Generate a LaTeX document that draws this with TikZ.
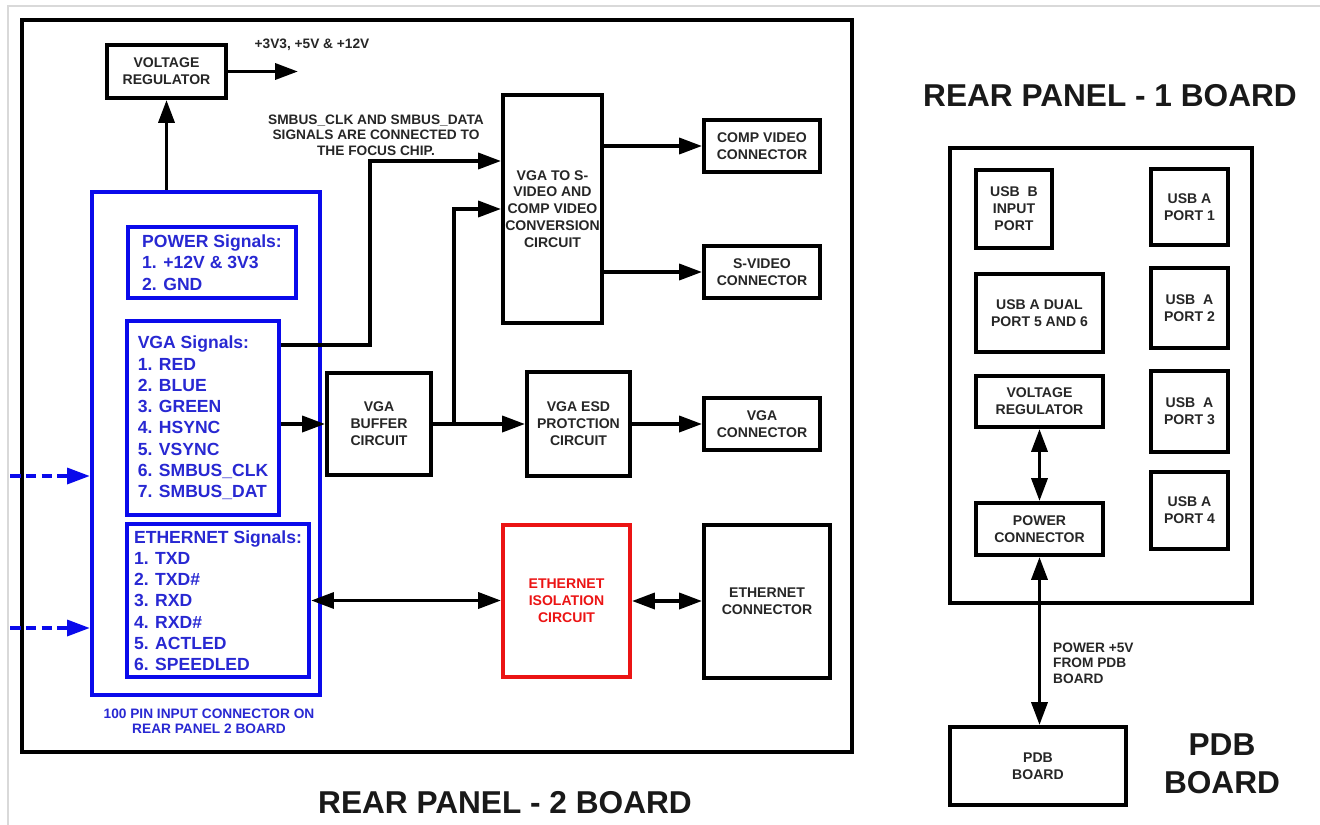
\documentclass[tikz,border=0pt]{standalone}
\usepackage{fontspec}
\setmainfont{Liberation Sans}
\usetikzlibrary{arrows.meta}
\definecolor{sigblue}{RGB}{10,10,235}
\definecolor{txtblue}{RGB}{40,40,210}
\definecolor{isored}{RGB}{235,20,20}
\newcommand{\boxfont}{\fontsize{8}{9.6}\selectfont\bfseries}
\newcommand{\notefont}{\fontsize{7.8}{8.8}\selectfont\bfseries}
\newcommand{\sigfont}{\fontsize{10}{12.1}\selectfont\bfseries}
\newcommand{\titlefont}{\fontsize{18}{21.5}\selectfont\bfseries}

\begin{document}
\begin{tikzpicture}[x=0.02cm, y=-0.02cm,
    blk/.style={draw, line width=2.2pt, align=center, font=\boxfont, text=black!85, inner sep=0pt},
    sig/.style={draw=sigblue, line width=2.4pt, align=left, font=\sigfont, text=txtblue, inner sep=0pt},
    conn/.style={line width=2.2pt, -{Triangle[length=13pt, width=9pt]}},
    dconn/.style={line width=2.2pt, {Triangle[length=13pt, width=9pt]}-{Triangle[length=13pt, width=9pt]}},
    din/.style={draw=sigblue, line width=2.2pt, dash pattern=on 6pt off 3pt, -{Triangle[length=13pt, width=9pt]}}]
      \useasboundingbox (0,0) rectangle (1320,825);
      % Screenshot edge
      \draw[gray!30, line width=0.6pt] (8,825) -- (8,6) -- (1320,6);

      % Rear panel 2 board frame
      \node[blk, minimum width=16.6cm, minimum height=14.64cm] (rp2) at (437,386) {};
      \node[font=\titlefont, text=black!90] (rp2title) at (505,803) {REAR PANEL - 2 BOARD};

      % Voltage regulator and its output
      \node[blk, minimum width=2.38cm, minimum height=1.06cm] (vreg) at (166.5,71.5) {VOLTAGE\\REGULATOR};
      \coordinate (vout) at (298,71.5);
      \node[font=\notefont, text=black!85] (vlabel) at (312,45) {+3V3, +5V \& +12V};

      % 100 pin input connector with its signal groups
      \node[sig, minimum width=4.56cm, minimum height=10.06cm] (pins) at (206,443.5) {};
      \node[sig, minimum width=3.36cm, minimum height=1.42cm] (pwrsig) at (212,262.5)
        {POWER Signals:\\1. +12V \& 3V3\\2. GND};
      \node[sig, minimum width=3.04cm, minimum height=3.88cm] (vgasig) at (203,418)
        {VGA Signals:\\1. RED\\2. BLUE\\3. GREEN\\4. HSYNC\\5. VSYNC\\6. SMBUS\_CLK\\7. SMBUS\_DAT};
      \node[sig, minimum width=3.64cm, minimum height=3.06cm] (ethsig) at (218,600.5)
        {ETHERNET Signals:\\1. TXD\\2. TXD\#\\3. RXD\\4. RXD\#\\5. ACTLED\\6. SPEEDLED};
      \node[font=\notefont, text=txtblue, align=center] (pinnote) at (209,721.5)
        {100 PIN INPUT CONNECTOR ON\\REAR PANEL 2 BOARD};
      \coordinate (in1) at (10,476);
      \coordinate (in2) at (10,628);

      % Video path
      \node[blk, minimum width=2.08cm, minimum height=2.04cm] (buf) at (379,424) {VGA\\BUFFER\\CIRCUIT};
      \node[blk, minimum width=1.98cm, minimum height=4.56cm] (conv) at (552.5,209)
        {VGA TO S-\\VIDEO AND\\COMP VIDEO\\CONVERSION\\CIRCUIT};
      \node[blk, minimum width=2.06cm, minimum height=2.08cm] (esd) at (578.5,424) {VGA ESD\\PROTCTION\\CIRCUIT};
      \node[blk, minimum width=2.32cm, minimum height=1.04cm] (comp) at (762,146) {COMP VIDEO\\CONNECTOR};
      \node[blk, minimum width=2.32cm, minimum height=1.04cm] (svid) at (762,272) {S-VIDEO\\CONNECTOR};
      \node[blk, minimum width=2.32cm, minimum height=1.04cm] (vgacon) at (762,424) {VGA\\CONNECTOR};
      \node[font=\notefont, text=black!85, align=center, text depth=0pt] (smbnote) at (376,135)
        {SMBUS\_CLK AND SMBUS\_DATA\\SIGNALS ARE CONNECTED TO\\THE FOCUS CHIP.};
      \coordinate (smbbend) at (370,161);
      \coordinate (vbr) at (454,424);

      % Ethernet path
      \node[blk, draw=isored, text=isored, minimum width=2.54cm, minimum height=3.04cm] (iso) at (566.5,601)
        {ETHERNET\\ISOLATION\\CIRCUIT};
      \node[blk, minimum width=2.52cm, minimum height=3.06cm] (ethcon) at (767,601.5) {ETHERNET\\CONNECTOR};

      % Rear panel 1 board
      \node[font=\titlefont, text=black!90] (rp1title) at (1110,96) {REAR PANEL - 1 BOARD};
      \node[blk, line width=2pt, minimum width=6.04cm, minimum height=9.1cm] (rp1) at (1101,375.5) {};
      \node[blk, minimum width=1.52cm, minimum height=1.56cm] (usbb) at (1014,209) {USB~~B\\INPUT\\PORT};
      \node[blk, minimum width=1.54cm, minimum height=1.52cm] (usba1) at (1189.5,207) {USB A\\PORT 1};
      \node[blk, minimum width=2.54cm, minimum height=1.56cm] (usbdual) at (1039.5,313) {USB A DUAL\\PORT 5 AND 6};
      \node[blk, minimum width=1.54cm, minimum height=1.6cm] (usba2) at (1189.5,308) {USB~~A\\PORT 2};
      \node[blk, minimum width=2.54cm, minimum height=1.02cm] (vreg2) at (1039.5,401.5) {VOLTAGE\\REGULATOR};
      \node[blk, minimum width=1.54cm, minimum height=1.62cm] (usba3) at (1189.5,411.5) {USB~~A\\PORT 3};
      \node[blk, minimum width=2.54cm, minimum height=1.04cm] (pwrcon) at (1039.5,529) {POWER\\CONNECTOR};
      \node[blk, minimum width=1.54cm, minimum height=1.54cm] (usba4) at (1189.5,510.5) {USB A\\PORT 4};

      % PDB board
      \node[blk, minimum width=3.52cm, minimum height=1.56cm] (pdb) at (1038,766) {PDB\\BOARD};
      \node[font=\titlefont, text=black!90, align=center] (pdbtitle) at (1222,764) {PDB\\BOARD};
      \node[font=\notefont, text=black!85, align=left, anchor=west] (pwrnote) at (1047,663)
        {POWER +5V\\FROM PDB\\BOARD};

      % Connectors
      \draw[conn] (pins.north -| vreg.south) -- (vreg.south);
      \draw[conn] (vreg.east) -- (vout);
      \draw[din] (in1) -- (in1 -| pins.west);
      \draw[din] (in2) -- (in2 -| pins.west);
      \draw[conn] ([yshift=1.46cm]vgasig.east) -| (smbbend) -- (smbbend -| conv.west);
      \draw[conn] (vgasig.east |- buf.west) -- (buf.west);
      \draw[conn] (buf.east) -- (esd.west);
      \draw[conn] (vbr) |- (conv.west);
      \draw[conn] (esd.east) -- (vgacon.west);
      \draw[conn] (conv.east |- comp.west) -- (comp.west);
      \draw[conn] (conv.east |- svid.west) -- (svid.west);
      \draw[dconn] (ethsig.east) -- (ethsig.east -| iso.west);
      \draw[dconn] (iso.east) -- (iso.east -| ethcon.west);
      \draw[dconn] (vreg2.south) -- (pwrcon.north);
      \draw[dconn] (pwrcon.south) -- (pwrcon.south |- pdb.north);
\end{tikzpicture}
\end{document}
